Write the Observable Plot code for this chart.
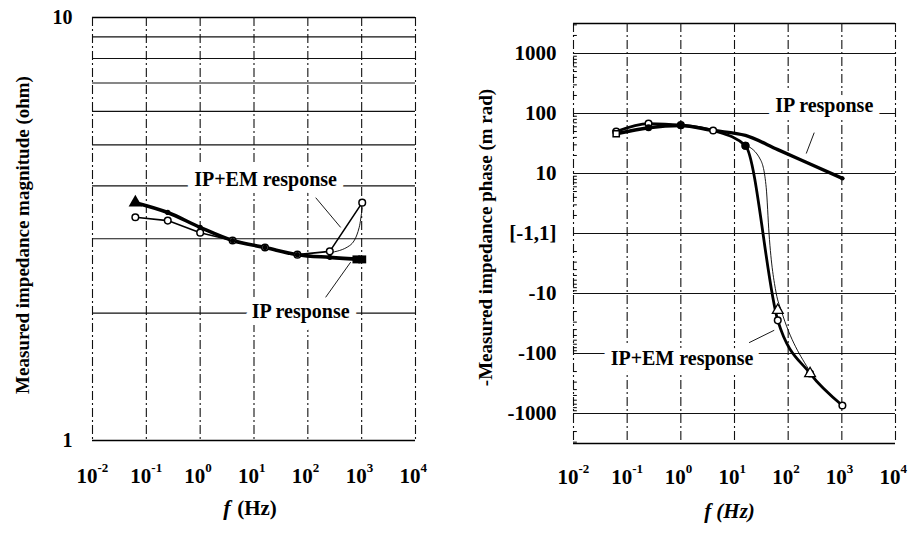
<!DOCTYPE html>
<html><head><meta charset="utf-8">
<script src="https://cdn.jsdelivr.net/npm/d3@7"></script>
<script src="https://cdn.jsdelivr.net/npm/@observablehq/plot@0.6"></script>
<style>
body{margin:0;background:#fff;}
#wrap{position:relative;width:911px;height:534px;overflow:hidden;background:#fff;}
#left{position:absolute;left:0;top:0;}
#right{position:absolute;left:455px;top:0;}
svg{overflow:visible;}
</style></head><body><div id="wrap"><div id="left"></div><div id="right"></div></div>
<script>
// ---------- shared ----------
const freq = [0.0625, 0.25, 1, 4, 16, 64, 256, 1024];
const decadeExps = [-2, -1, 0, 1, 2, 3, 4];

// ---------- left panel: impedance magnitude (ohm) ----------
const ipMag   = [3.65, 3.46, 3.19, 2.97, 2.86, 2.75, 2.71, 2.68];
const ipemMag = [3.37, 3.31, 3.10, 2.97, 2.86, 2.75, 2.80, 3.65];
const modelMagFreq = [256, 600, 900, 1024];
const modelMag     = [2.78, 2.89, 3.19, 3.55];
const ipEndFreq = [800, 1024];
const ipEndMag  = [2.68, 2.68];
const magGrid = [2, 3, 4, 5, 6, 7, 8, 9];
const magTicks = [1, 10];
const magTickLabels = ["1", "10"];

// ---------- right panel: -phase (mrad) ----------
const ipPhase   = [46, 58, 63, 52, 43, 25, 14.4, 8.3];
const ipemPhase = [50, 68, 64, 52, 29, -28, -215, -735];
const modelPhaseFreq = [16, 31, 39, 44, 60, 74, 256, 1024];
const modelPhase     = [30, 16.5, 5.8, 0, -10, -19, -200, -720];
const triFreq  = [64, 256];
const triPhase = [-19, -215];
const phaseTicks = [1000, 100, 10, 0, -10, -100, -1000];
const phaseTickLabels = ["1000", "100", "10", "[-1,1]", "-10", "-100", "-1000"];

// annotations (data units)
const leftNotes = [
  {f: 16.4, v: 4.14, text: "IP+EM response", lf1: 140, lv1: 3.75, lf2: 407, lv2: 3.19},
  {f: 73.5, v: 2.02, text: "IP response",    lf1: 214, lv1: 2.18, lf2: 624, lv2: 2.64}
];
const rightNotes = [
  {f: 471, v: 135,  text: "IP response",    lf1: 306, lv1: 48,  lf2: 217, lv2: 21.5},
  {f: 1.05, v: -120, text: "IP+EM response", lf1: 18.7, lv1: -66, lf2: 55, lv2: -41}
];

// symmetric decade transform for the phase axis: |p|<=1 collapses to 0
const tr = p => p > 1 ? Math.log10(p) : p < -1 ? -Math.log10(-p) : 0;

const FONT = "'Liberation Serif', 'Times New Roman', serif";
const zip = (xs, ys) => xs.map((x, i) => ({f: x, v: ys[i]}));

function xTickMarks(yAt, dy) {
  return [
    Plot.text(decadeExps, {x: e => Math.pow(10, e), y: () => yAt, text: () => "10",
      dy: dy, dx: 5, textAnchor: "end", fontSize: 21, fontWeight: "bold"}),
    Plot.text(decadeExps, {x: e => Math.pow(10, e), y: () => yAt, text: e => String(e),
      dy: dy - 9, dx: 5, textAnchor: "start", fontSize: 13, fontWeight: "bold"})
  ];
}

// ================= LEFT =================
const ipL = zip(freq, ipMag), ipemL = zip(freq, ipemMag), modelL = zip(modelMagFreq, modelMag);
const left = Plot.plot({
  width: 455, height: 534,
  marginLeft: 92, marginRight: 40, marginTop: 17, marginBottom: 94,
  x: {type: "log", domain: [0.01, 1e4], axis: null},
  y: {type: "log", domain: [1, 10], axis: null},
  style: {fontFamily: FONT, color: "#000", background: "#fff"},
  marks: [
    Plot.ruleY(magGrid, {y: d => d, stroke: "#111", strokeWidth: 1.1}),
    Plot.ruleY(magTicks, {y: d => d, stroke: "#000", strokeWidth: 1.6}),
    Plot.ruleX(decadeExps, {x: e => Math.pow(10, e), stroke: "#111", strokeWidth: 1.1, strokeDasharray: "9,3,2,3"}),
    // label halos and labels
    Plot.text(leftNotes, {x: "f", y: "v", text: "text", fontSize: 20, fontWeight: "bold",
      stroke: "#fff", strokeWidth: 14, fill: "#000", paintOrder: "stroke"}),
    Plot.link(leftNotes, {x1: "lf1", y1: "lv1", x2: "lf2", y2: "lv2", stroke: "#000", strokeWidth: 0.9}),
    // data
    Plot.line(modelL, {x: "f", y: "v", curve: "monotone-x", stroke: "#000", strokeWidth: 0.9}),
    Plot.line(ipemL, {x: "f", y: "v", stroke: "#000", strokeWidth: 1.6}),
    Plot.line(ipL, {x: "f", y: "v", curve: "monotone-x", stroke: "#000", strokeWidth: 3.6}),
    Plot.dot(ipemL, {x: "f", y: "v", r: 3.3, fill: "#fff", stroke: "#000", strokeWidth: 1.5}),
    Plot.dot(ipL.slice(1, 7), {x: "f", y: "v", r: 2.6, fill: "#000"}),
    Plot.dot(ipL.slice(0, 1), {x: "f", y: "v", r: 5, symbol: "triangle", fill: "#000"}),
    Plot.dot(zip(ipEndFreq, ipEndMag), {x: "f", y: "v", r: 4.5, symbol: "square", fill: "#000"}),
    // tick labels
    Plot.text(magTicks, {x: () => 0.01, y: d => d, text: (d, i) => magTickLabels[i],
      dx: -20, textAnchor: "end", fontSize: 20, fontWeight: "bold"}),
    ...xTickMarks(1, 36),
    Plot.text(["f"], {frameAnchor: "bottom", text: d => d, dx: -27, dy: 74, fontSize: 22,
      fontStyle: "italic", fontWeight: "bold"}),
    Plot.text(["(Hz)"], {frameAnchor: "bottom", text: d => d, dx: 3, dy: 74, fontSize: 21, fontWeight: "bold"}),
    Plot.text(["Measured impedance magnitude (ohm)"], {frameAnchor: "left", textAnchor: "middle", text: d => d, rotate: -90,
      dx: -70, dy: 6, fontSize: 19, fontWeight: "bold"})
  ]
});
document.getElementById("left").appendChild(left);

// ================= RIGHT =================
const ipR = zip(freq, ipPhase), ipemR = zip(freq, ipemPhase), modelR = zip(modelPhaseFreq, modelPhase);
const minorT = [];
for (let k = -4; k <= 3; k++) for (let m = 2; m <= 9; m++) {
  const a = k + Math.log10(m);
  if (a < 3.5 && a > 0) minorT.push(a);
  if (-a > -3.5 && a > 0) minorT.push(-a);
}
const right = Plot.plot({
  width: 456, height: 534,
  marginLeft: 118, marginRight: 16, marginTop: 23, marginBottom: 91,
  x: {type: "log", domain: [0.01, 1e4], axis: null},
  y: {type: "linear", domain: [-3.5, 3.5], axis: null},
  style: {fontFamily: FONT, color: "#000", background: "#fff"},
  marks: [
    Plot.ruleY(phaseTicks, {y: d => tr(d), stroke: "#111", strokeWidth: 1.2}),
    Plot.ruleY([3.5, -3.5], {y: d => d, stroke: "#000", strokeWidth: 1.5}),
    Plot.ruleX(decadeExps, {x: e => Math.pow(10, e), stroke: "#111", strokeWidth: 1.1, strokeDasharray: "9,3,2,3"}),
    Plot.ruleY(minorT, {y: d => d, x1: 0.01, x2: 0.0118, stroke: "#000", strokeWidth: 1}),
    Plot.text(rightNotes, {x: "f", y: d => tr(d.v), text: "text", fontSize: 20, fontWeight: "bold",
      stroke: "#fff", strokeWidth: 14, fill: "#000", paintOrder: "stroke"}),
    Plot.link(rightNotes, {x1: "lf1", y1: d => tr(d.lv1), x2: "lf2", y2: d => tr(d.lv2), stroke: "#000", strokeWidth: 0.9}),
    Plot.line(modelR, {x: "f", y: d => tr(d.v), curve: "monotone-x", stroke: "#000", strokeWidth: 0.9}),
    Plot.line(ipR, {x: "f", y: d => tr(d.v), curve: "monotone-x", stroke: "#000", strokeWidth: 3.4}),
    Plot.line(ipemR, {x: "f", y: d => tr(d.v), curve: "monotone-x", stroke: "#000", strokeWidth: 2.8}),
    Plot.dot(ipemR, {x: "f", y: d => tr(d.v), r: 3.3, fill: "#fff", stroke: "#000", strokeWidth: 1.5}),
    Plot.dot(ipR.slice(1, 3), {x: "f", y: d => tr(d.v), r: 3.5, fill: "#000"}),
    Plot.dot(ipemR.slice(4, 5), {x: "f", y: d => tr(d.v), r: 4, fill: "#000"}),
    Plot.dot(ipR.slice(0, 1), {x: "f", y: d => tr(d.v), r: 3.5, symbol: "square", fill: "#fff", stroke: "#000", strokeWidth: 1.5}),
    Plot.dot(zip(triFreq, triPhase), {x: "f", y: d => tr(d.v), r: 4, symbol: "triangle", fill: "#fff", stroke: "#000", strokeWidth: 1.3}),
    Plot.dot(ipR.slice(7), {x: "f", y: d => tr(d.v), r: 2.2, fill: "#000"}),
    Plot.text(phaseTicks, {x: () => 0.01, y: d => tr(d), text: (d, i) => phaseTickLabels[i],
      dx: -17, textAnchor: "end", fontSize: 21, fontWeight: "bold"}),
    ...xTickMarks(-3.5, 34),
    Plot.text(["f (Hz)"], {frameAnchor: "bottom", text: d => d, dx: -5, dy: 74, fontSize: 21,
      fontStyle: "italic", fontWeight: "bold"}),
    Plot.text(["-Measured impedance phase (m rad)"], {frameAnchor: "left", textAnchor: "middle", text: d => d, rotate: -90,
      dx: -88, dy: 4, fontSize: 19, fontWeight: "bold"})
  ]
});
document.getElementById("right").appendChild(right);
</script></body></html>
